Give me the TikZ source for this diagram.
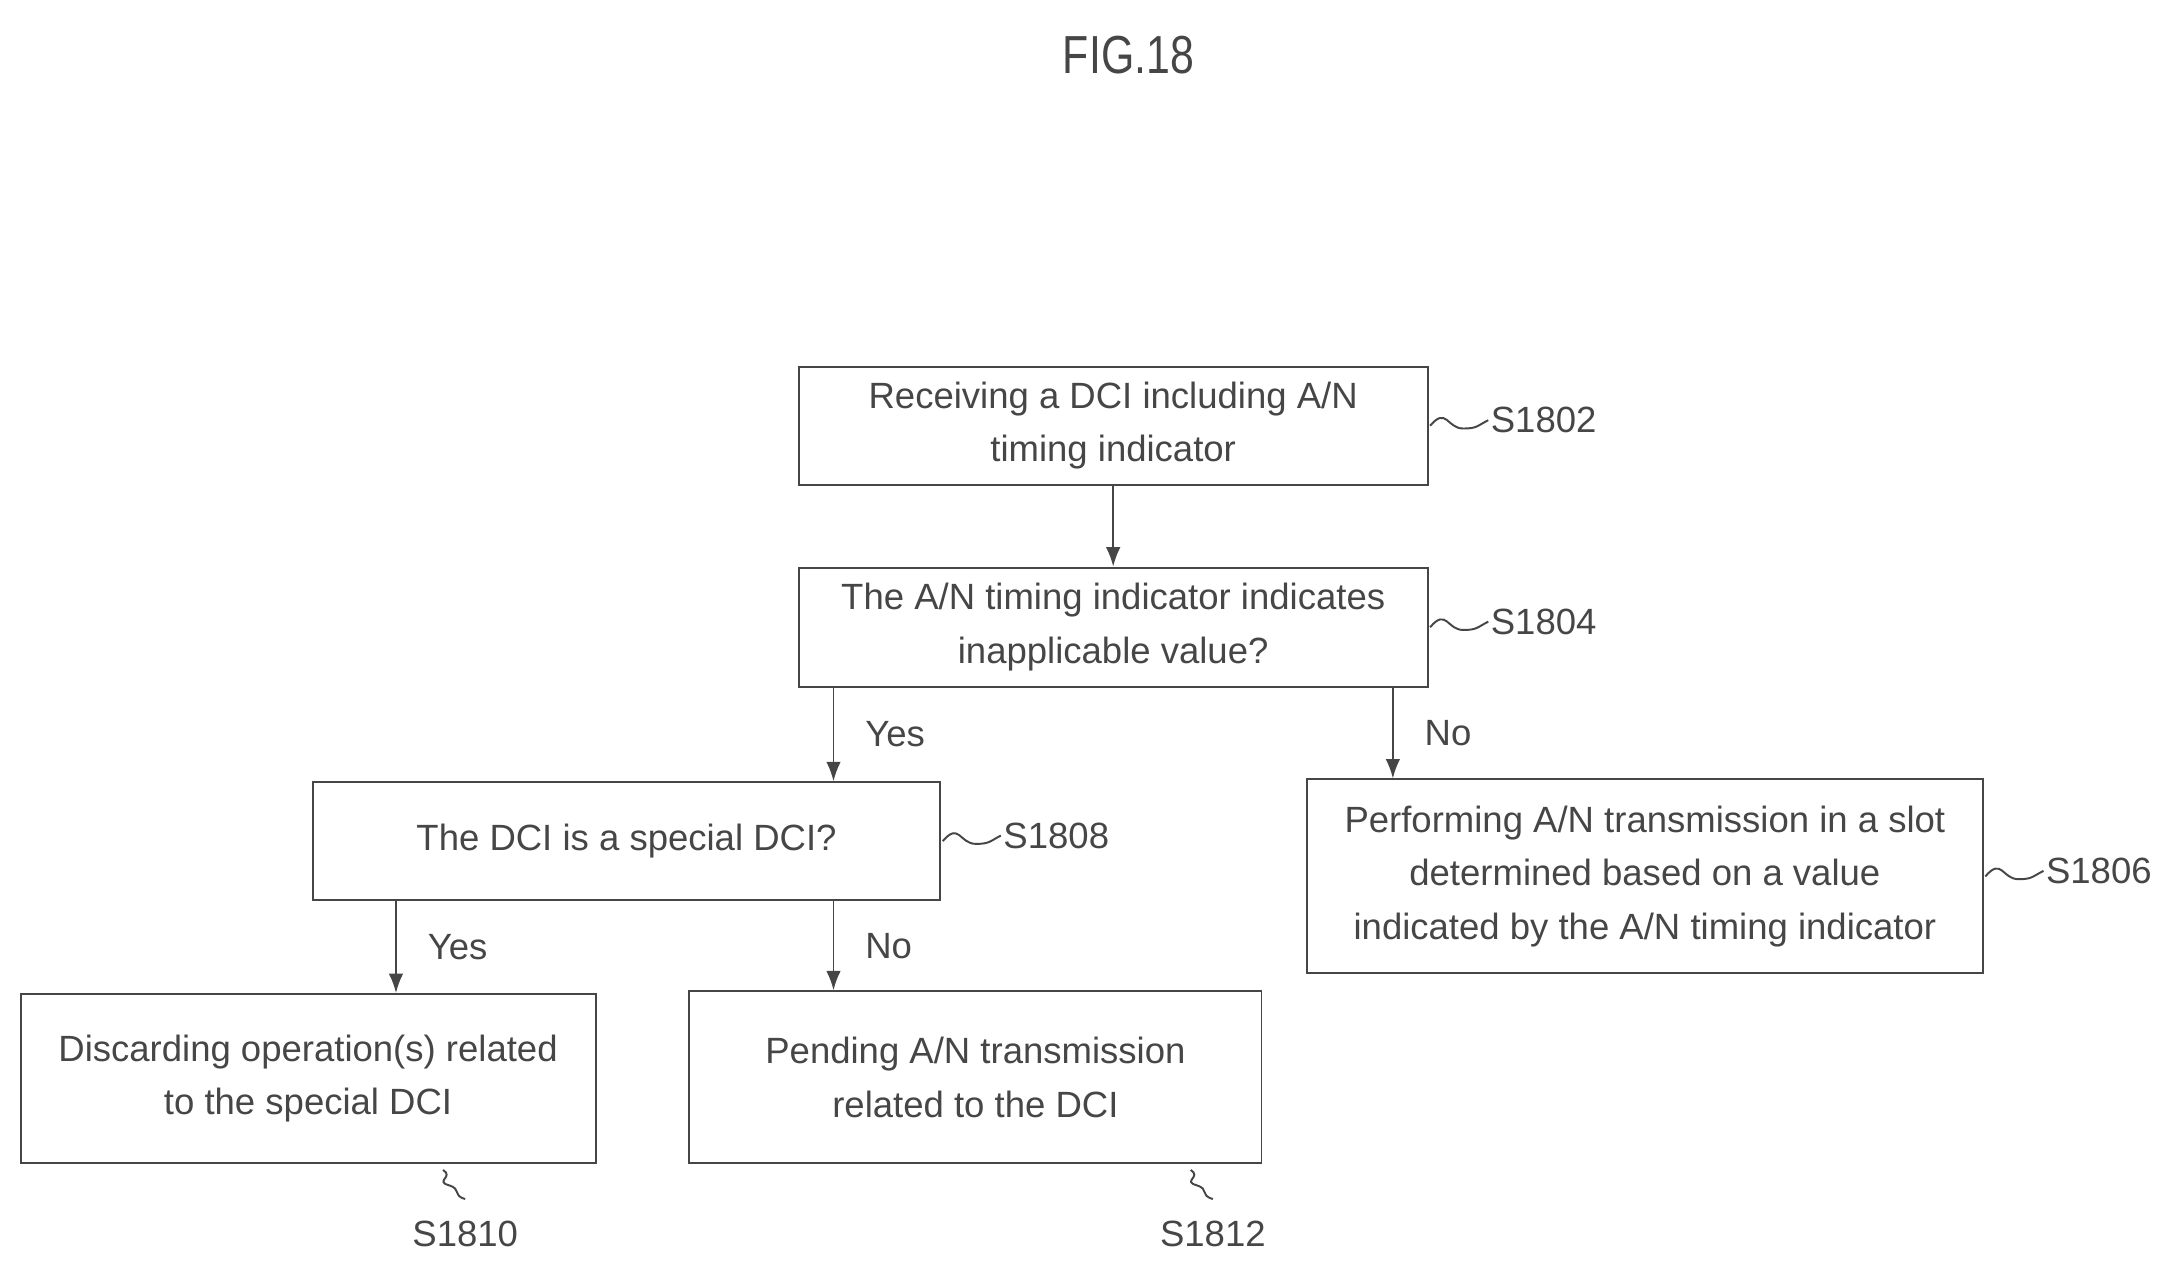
\documentclass[tikz,border=0pt]{standalone}
\usepackage{fontspec}
\setmainfont{Liberation Sans}
\usetikzlibrary{arrows.meta}
\definecolor{linegray}{RGB}{70,70,70}
\tikzset{
  arrow/.style={-{Latex[length=4pt,width=3pt]}, thin, draw=linegray},
  label/.style={font=\fontsize{7.5}{10}\selectfont, text=linegray},
  block/.style={
    draw=linegray,
    rectangle,
    align=center,
    inner sep=0pt,
    font=\fontsize{7.5}{11}\selectfont,
    text=linegray
  },
  squig/.style={draw=linegray, thin}
}
\begin{document}
\begin{tikzpicture}[x=0.01cm,y=-0.01cm]
\useasboundingbox (0,0) rectangle (1568,924);

\node[font=\fontsize{11}{14}\selectfont, text=linegray, xscale=0.8] (fig) at (815,40) {FIG.18};

\node[block, minimum width=4.54cm, minimum height=0.85cm] (s1802) at (804,307.5)
  {Receiving a DCI including A/N\\timing indicator};
\node[block, minimum width=4.54cm, minimum height=0.86cm] (s1804) at (804,453)
  {The A/N timing indicator indicates\\inapplicable value?};
\node[block, minimum width=4.53cm, minimum height=0.85cm] (s1808) at (452.5,607.5)
  {The DCI is a special DCI?};
\node[block, minimum width=4.88cm, minimum height=1.40cm] (s1806) at (1188,633)
  {Performing A/N transmission in a slot\\determined based on a value\\indicated by the A/N timing indicator};
\node[block, minimum width=4.15cm, minimum height=1.22cm] (s1810) at (222.5,779)
  {Discarding operation(s) related\\to the special DCI};
\node[block, minimum width=4.13cm, minimum height=1.24cm] (s1812) at (704.5,778)
  {Pending A/N transmission\\related to the DCI};

% Connectors
\draw[arrow] (s1802.south) -- (s1804.north);
\draw[arrow] (s1804.south -| 602,0) -- (s1808.north -| 602,0)
  node[midway, right=3pt, label] {Yes};
\draw[arrow] (s1804.south -| 1006,0) -- (s1806.north -| 1006,0)
  node[midway, right=3pt, label] {No};
\draw[arrow] (s1808.south -| 286,0) -- (s1810.north -| 286,0)
  node[midway, right=3pt, label] {Yes};
\draw[arrow] (s1808.south -| 602,0) -- (s1812.north -| 602,0)
  node[midway, right=3pt, label] {No};

% Step numbers
\foreach \blk/\num in {s1802/S1802, s1804/S1804, s1808/S1808, s1806/S1806} {
  \draw[squig] ([xshift=0.3pt]\blk.east) .. controls +(12,-14) and +(-12,0) .. ++(24,2)
    .. controls +(10,0) and +(-8,4) .. ++(18,-6)
    node[right=-3pt, label] (\num) {\num};
}
\foreach \blk/\num/\px in {s1810/S1810/320, s1812/S1812/860} {
  \draw[squig] (\px,845) .. controls (\px+8,850) and (\px-6,853) .. (\px+4,856)
    .. controls (\px+14,859) and (\px+6,863) .. (\px+16,866)
    node[below=1pt, label] (\num) {\num};
}

\end{tikzpicture}
\end{document}
